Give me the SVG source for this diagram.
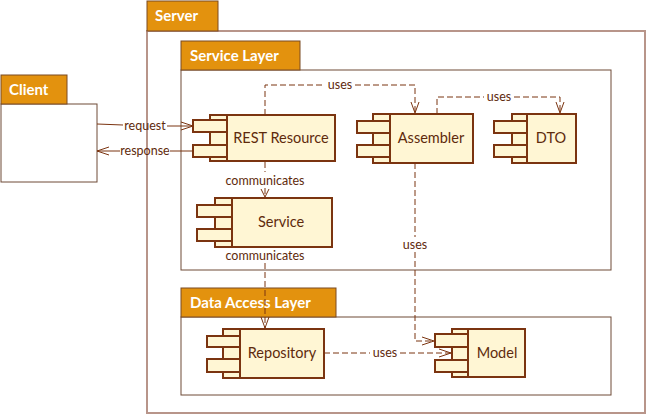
<svg xmlns="http://www.w3.org/2000/svg" width="649" height="415" viewBox="0 0 649 415">
<defs>
<style>
.tab{fill:#E3920E;stroke:#7A4A22;stroke-width:1}
.body{fill:#FFFFFF;stroke:#6E4A36;stroke-width:1}
.srv{fill:#FFFFFF;stroke:#B8958A;stroke-width:2}
.tabt{font-family:Lato,"Liberation Sans",sans-serif;font-weight:bold;font-size:15px;fill:#FFFFFF}
.cmp{fill:#FFF6D4;stroke:#7B3410;stroke-width:2}
.cmpt{font-family:Lato,"Liberation Sans",sans-serif;font-size:14.5px;fill:#5E2A0C;text-anchor:middle}
.lbl{font-family:Lato,"Liberation Sans",sans-serif;font-size:12.5px;fill:#5E2A0C;text-anchor:middle}
.ln{fill:none;stroke:#7B3410;stroke-width:1}
.dash{fill:none;stroke:#7B3410;stroke-width:1;stroke-dasharray:6,3}
.arr{fill:none;stroke:#7B3410;stroke-width:1}
</style>
</defs>
<rect width="649" height="415" fill="#FFFFFF"/>

<g id="server">
<rect class="srv" x="147" y="31" width="498" height="382"/>
<rect class="tab" x="147" y="1" width="71" height="30"/>
<text class="tabt" x="155" y="21">Server</text>
</g>

<g id="client">
<rect class="body" x="1" y="104" width="96" height="78"/>
<rect class="tab" x="1" y="75" width="66" height="29"/>
<text class="tabt" x="9" y="95">Client</text>
</g>

<g id="service-layer">
<rect class="body" x="181" y="70" width="430" height="200"/>
<rect class="tab" x="181" y="41" width="119" height="29"/>
<text class="tabt" x="190" y="61">Service Layer</text>
</g>

<g id="data-access-layer">
<rect class="body" x="181" y="317" width="430" height="78"/>
<rect class="tab" x="181" y="288" width="155" height="29"/>
<text class="tabt" x="190" y="308">Data Access Layer</text>
</g>

<g id="rest-resource">
<rect class="cmp" x="210" y="115" width="17" height="46"/>
<rect class="cmp" x="227" y="115" width="108" height="46"/>
<rect class="cmp" x="193" y="120" width="34" height="12"/>
<rect class="cmp" x="193" y="145" width="34" height="12"/>
<text class="cmpt" x="281" y="143">REST Resource</text>
</g>

<g id="assembler">
<rect class="cmp" x="373" y="114" width="17" height="49"/>
<rect class="cmp" x="390" y="114" width="83" height="49"/>
<rect class="cmp" x="357" y="121" width="33" height="12"/>
<rect class="cmp" x="357" y="145" width="33" height="12"/>
<text class="cmpt" x="431" y="143">Assembler</text>
</g>

<g id="dto">
<rect class="cmp" x="512" y="114" width="15" height="49"/>
<rect class="cmp" x="527" y="114" width="49" height="49"/>
<rect class="cmp" x="494" y="121" width="33" height="12"/>
<rect class="cmp" x="494" y="145" width="33" height="12"/>
<text class="cmpt" x="551" y="143">DTO</text>
</g>

<g id="service">
<rect class="cmp" x="215" y="198" width="17" height="49"/>
<rect class="cmp" x="232" y="198" width="100" height="49"/>
<rect class="cmp" x="197" y="205" width="35" height="12"/>
<rect class="cmp" x="197" y="229" width="35" height="12"/>
<text class="cmpt" x="281" y="227">Service</text>
</g>

<g id="repository">
<rect class="cmp" x="223" y="329" width="17" height="49"/>
<rect class="cmp" x="240" y="329" width="84" height="49"/>
<rect class="cmp" x="207" y="336" width="33" height="11"/>
<rect class="cmp" x="207" y="359" width="33" height="13"/>
<text class="cmpt" x="282" y="358">Repository</text>
</g>

<g id="model">
<rect class="cmp" x="452" y="329" width="16" height="48"/>
<rect class="cmp" x="468" y="329" width="57" height="48"/>
<rect class="cmp" x="435" y="334" width="33" height="13"/>
<rect class="cmp" x="435" y="360" width="33" height="12"/>
<text class="cmpt" x="497" y="358">Model</text>
</g>

<g id="connectors">
<path class="ln" d="M97,124 L123,125 M167,126 L193,126"/>
<path class="arr" d="M181,122 L193,126 L181,130"/>
<text class="lbl" x="145" y="130">request</text>
<path class="ln" d="M193,151 L170,151 M120,151 L97,151"/>
<path class="arr" d="M109,147 L97,151 L109,155"/>
<text class="lbl" x="145" y="155">response</text>
<path class="dash" d="M265,115 L265,85 L325,85 M355,85 L415,85 L415,113"/>
<path class="arr" d="M411,102 L415,113 L419,102"/>
<text class="lbl" x="340" y="89">uses</text>
<path class="dash" d="M437,114 L437,97 L484,97 M514,97 L560,97 L560,113"/>
<path class="arr" d="M556,102 L560,113 L564,102"/>
<text class="lbl" x="499" y="101">uses</text>
<path class="dash" d="M265,162 L265,172 M265,188 L265,197"/>
<path class="arr" d="M261,189 L265,197 L269,189"/>
<text class="lbl" x="265" y="185">communicates</text>
<path class="dash" d="M265,263 L265,328"/>
<path class="arr" d="M261,317 L265,328 L269,317"/>
<text class="lbl" x="265" y="260">communicates</text>
<path class="dash" d="M415,163 L415,237 M415,252 L415,341 L434,341"/>
<path class="arr" d="M422,337 L434,341 L422,345"/>
<text class="lbl" x="415" y="249">uses</text>
<path class="dash" d="M324,353 L370,353 M400,353 L451,353"/>
<path class="arr" d="M439,349 L451,353 L439,357"/>
<text class="lbl" x="385" y="357">uses</text>
</g>
</svg>
